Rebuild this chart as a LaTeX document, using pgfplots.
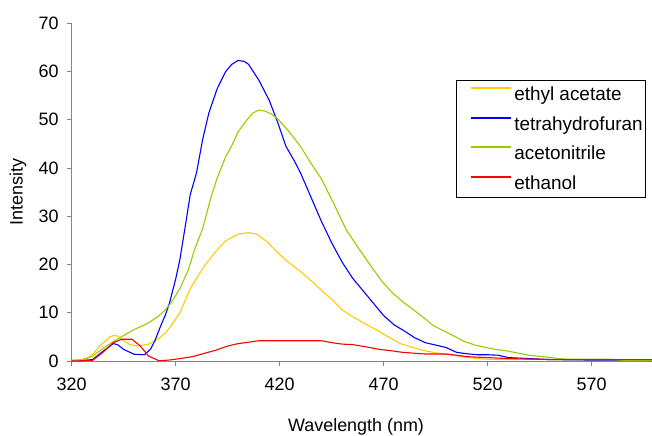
\documentclass[border=0pt]{standalone}
\usepackage{fontspec}
\setmainfont{Liberation Sans}
\usepackage{pgfplots}
\pgfplotsset{compat=1.18}

\definecolor{axisgray}{HTML}{868686}
\definecolor{eacolor}{HTML}{FFCC00}
\definecolor{thfcolor}{HTML}{0000FF}
\definecolor{accolor}{HTML}{99CC00}
\definecolor{etcolor}{HTML}{FF0000}

\begin{document}
\begin{tikzpicture}
\begin{axis}[
    scale only axis,
    width=580.3bp, height=337.7bp,
    xmin=320, xmax=599, ymin=0, ymax=70,
    xtick={320,370,...,570},
    ytick={0,10,...,70},
    axis x line=bottom, axis y line=left,
    axis line style={-, draw=axisgray, line width=0.8bp},
    tick align=outside,
    major tick length=5bp,
    tick style={draw=axisgray, line width=0.8bp},
    font=\fontsize{18}{21}\selectfont,
    /pgf/number format/assume math mode=true,
    xticklabel style={anchor=north, inner sep=0pt, yshift=-12bp},
    yticklabel style={anchor=east, inner sep=0pt, xshift=-8bp},
    xlabel={Wavelength (nm)},
    ylabel={Intensity},
    xlabel style={at={(axis description cs:0.49,-0.195)}, anchor=center},
    ylabel style={at={(axis description cs:-0.0925,0.5)}, anchor=center, rotate=0},
    clip=false,
    legend cell align=left,
    legend style={at={(axis description cs:0.6622,0.8321)}, anchor=north west,
        draw=black, line width=0.8bp, font=\fontsize{19}{22}\selectfont,
        inner xsep=1bp, inner ysep=4.5bp, row sep=10.5bp},
    legend image code/.code={\path[draw=none] (0bp,0bp) -- (12bp,0bp);
        \draw[#1, line width=1.8bp] (14bp,6.5bp) -- (54bp,6.5bp);},
    every axis plot/.append style={line width=1.1bp},
]

% ethyl acetate
\addplot[draw=eacolor] coordinates {
(320,0.1) (325,0.3) (329,0.9) (334,3.3) (338,4.9) (340,5.3) (342,5.2) (345,4.2)
(348,3.4) (352,3.1) (357,3.5) (362,4.7) (365,5.8) (368,7.4) (372,10) (377,15)
(383,19.2) (389,22.6) (394,24.9) (400,26.3) (405,26.6) (409,26.3) (414,24.7)
(418,22.9) (423,20.9) (431,18.2) (436,16.3) (441,14.3) (446,12.4) (450,10.6)
(455,9.2) (462,7.5) (468,6.1) (473,4.8) (478,3.6) (484,2.8) (490,2.1) (495,1.7)
(500,1.4) (505,1.1) (509,0.8) (515,0.5) (520,0.35) (530,0.3) (550,0.3) (570,0.25)
(590,0.2) (599,0.2)
};
\addlegendentry{ethyl acetate}

% tetrahydrofuran
\addplot[draw=thfcolor] coordinates {
(320,0.1) (325,0.1) (330,0.3) (335,2.0) (340,3.6) (342,3.4) (345,2.4) (350,1.4)
(355,1.3) (358,2.5) (360,4.2) (363,7.5) (365,9.5) (367,12) (370,17) (372,21)
(375,29) (377,34.5) (380,39) (383,46) (386,51.5) (390,56.5) (394,60) (397,61.5)
(400,62.3) (403,62.1) (405,61.5) (410,58.2) (415,54) (419,49.5) (423,44.5)
(427,41.5) (430,39) (435,34) (440,29) (445,24.5) (450,20.5) (455,17.2) (460,14.6)
(465,12) (470,9.4) (475,7.5) (480,6.2) (485,4.8) (490,3.8) (495,3.3) (500,2.8)
(505,1.8) (510,1.5) (515,1.3) (520,1.3) (525,1.2) (530,0.7) (540,0.5) (550,0.3)
(560,0.25) (570,0.2) (580,0.2) (590,0.15) (599,0.1)
};
\addlegendentry{tetrahydrofuran}

% acetonitrile
\addplot[draw=accolor] coordinates {
(320,0.1) (325,0.2) (330,1.0) (335,2.6) (340,4.0) (345,5.3) (350,6.5) (355,7.5)
(358,8.2) (362,9.4) (365,10.6) (368,12.2) (372,15) (376,18.8) (379,23) (383,27.5)
(387,34) (390,38) (394,42.3) (397,44.7) (400,47.5) (403,49.3) (407,51.4) (410,52)
(413,51.8) (416,51.2) (419,50.2) (424,47.8) (430,44.5) (435,41) (440,37.8)
(446,32.6) (452,27.2) (458,23.3) (464,19.6) (469,16.6) (474,14.2) (480,12.0)
(485,10.4) (490,8.7) (494,7.3) (500,6.0) (505,4.9) (509,4.0) (514,3.3) (519,2.8)
(524,2.4) (529,2.1) (534,1.7) (539,1.25) (544,1.0) (549,0.8) (554,0.5) (558,0.4)
(570,0.4) (579,0.4) (585,0.15) (590,0.1) (599,0.1)
};
\addlegendentry{acetonitrile}

% ethanol
\addplot[draw=etcolor] coordinates {
(320,0) (330,0.1) (335,1.8) (340,3.8) (344,4.5) (349,4.5) (353,3.1) (357,1.0)
(362,0.05) (367,0.2) (372,0.5) (378,0.9) (383,1.5) (389,2.2) (395,3.1) (400,3.6)
(405,3.9) (410,4.2) (425,4.2) (440,4.2) (445,3.8) (450,3.5) (455,3.4) (462,2.9)
(468,2.4) (474,2.1) (479,1.8) (485,1.6) (490,1.45) (500,1.45) (505,1.2) (510,0.9)
(515,0.8) (520,0.7) (530,0.5) (540,0.4) (550,0.3) (560,0.3) (580,0.3) (599,0.3)
};
\addlegendentry{ethanol}

\end{axis}
\pgfresetboundingbox
\useasboundingbox (-71.7bp,-75bp) rectangle (580.3bp,361bp);
\end{tikzpicture}
\end{document}
